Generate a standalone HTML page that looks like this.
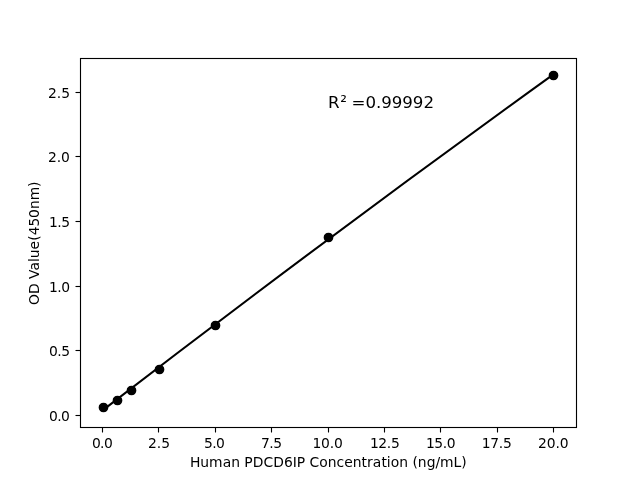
<!DOCTYPE html>
<html lang="en"><head><meta charset="utf-8"><title>Human PDCD6IP standard curve</title>
<style>html,body{margin:0;padding:0;background:#fff;overflow:hidden}svg{display:block}text{font-family:'DejaVu Sans','Liberation Sans',sans-serif;fill:#000}</style></head><body>
<svg width="640" height="480" viewBox="0 0 640 480">
<rect width="640" height="480" fill="#fff"/>
<g stroke="#000" stroke-width="1.111" fill="none">
<line x1="102.50" y1="427.20" x2="102.50" y2="432.50"/>
<line x1="158.50" y1="427.20" x2="158.50" y2="432.50"/>
<line x1="215.50" y1="427.20" x2="215.50" y2="432.50"/>
<line x1="271.50" y1="427.20" x2="271.50" y2="432.50"/>
<line x1="328.50" y1="427.20" x2="328.50" y2="432.50"/>
<line x1="384.50" y1="427.20" x2="384.50" y2="432.50"/>
<line x1="440.50" y1="427.20" x2="440.50" y2="432.50"/>
<line x1="497.50" y1="427.20" x2="497.50" y2="432.50"/>
<line x1="553.50" y1="427.20" x2="553.50" y2="432.50"/>
<line x1="75.50" y1="415.50" x2="80.00" y2="415.50"/>
<line x1="75.50" y1="350.50" x2="80.00" y2="350.50"/>
<line x1="75.50" y1="286.50" x2="80.00" y2="286.50"/>
<line x1="75.50" y1="221.50" x2="80.00" y2="221.50"/>
<line x1="75.50" y1="156.50" x2="80.00" y2="156.50"/>
<line x1="75.50" y1="92.50" x2="80.00" y2="92.50"/>
</g>
<g font-size="13.889px" text-anchor="middle">
<text x="102.290" y="448.000" textLength="20.828" lengthAdjust="spacing">0.0</text>
<text x="158.964" y="448.000" textLength="22.078" lengthAdjust="spacing">2.5</text>
<text x="214.388" y="448.000" textLength="20.828" lengthAdjust="spacing">5.0</text>
<text x="271.511" y="448.000" textLength="21.078" lengthAdjust="spacing">7.5</text>
<text x="327.610" y="448.000" textLength="30.406" lengthAdjust="spacing">10.0</text>
<text x="384.829" y="448.000" textLength="29.906" lengthAdjust="spacing">12.5</text>
<text x="440.782" y="448.000" textLength="29.656" lengthAdjust="spacing">15.0</text>
<text x="496.816" y="448.000" textLength="29.906" lengthAdjust="spacing">17.5</text>
<text x="553.265" y="448.000" textLength="30.406" lengthAdjust="spacing">20.0</text>
<text text-anchor="start" x="189.958 200.276 209.079 222.742 231.138 239.941 244.369 252.75 263.443 273.152 283.971 292.68 296.78 305.161 309.588 319.297 327.803 336.606 344.253 352.806 361.609 367.068 372.792 381.439 386.773 390.638 399.144 407.947 412.375 417.803 426.731 435.424 440.118 453.53 461.27" y="467.000">Human PDCD6IP Concentration (ng/mL)</text>
<text transform="translate(38.746 243.125) rotate(-90)" text-anchor="start" x="-61.75 -50.852 -40.188 -35.789 -27.391 -18.898 -15.062 -6.289 2.359 7.883 16.562 25.242 34.047 42.82 56.203">OD Value(450nm)</text>
</g>
<g font-size="13.889px" text-anchor="end">
<text x="69.763" y="421.000" textLength="20.828" lengthAdjust="spacing">0.0</text>
<text x="70.048" y="356.000" textLength="21.078" lengthAdjust="spacing">0.5</text>
<text x="69.988" y="292.000" textLength="21.078" lengthAdjust="spacing">1.0</text>
<text x="70.043" y="227.000" textLength="21.078" lengthAdjust="spacing">1.5</text>
<text x="69.818" y="162.000" textLength="21.828" lengthAdjust="spacing">2.0</text>
<text x="70.073" y="98.000" textLength="22.078" lengthAdjust="spacing">2.5</text>
</g>
<g fill="#000" stroke="#000" stroke-width="1.389">
<circle cx="103.50" cy="407.50" r="4.167"/>
<circle cx="117.50" cy="400.50" r="4.167"/>
<circle cx="131.50" cy="390.50" r="4.167"/>
<circle cx="159.50" cy="369.50" r="4.167"/>
<circle cx="215.50" cy="325.50" r="4.167"/>
<circle cx="328.50" cy="237.50" r="4.167"/>
<circle cx="553.50" cy="75.50" r="4.167"/>
</g>
<path d="M102.55 410.40 Q328.00 236.70 553.45 74.40" fill="none" stroke="#000" stroke-width="2.083" stroke-linecap="square"/>
<rect x="80.5" y="58.5" width="496.0" height="369.0" fill="none" stroke="#000" stroke-width="1.111"/>
<text text-anchor="start" x="328.075 340.219 346.222 351.46 365.494 375.919 381.156 391.707 402.257 412.807 423.482" y="108.000" font-size="16.667px">R² =0.99992</text>
</svg></body></html>
